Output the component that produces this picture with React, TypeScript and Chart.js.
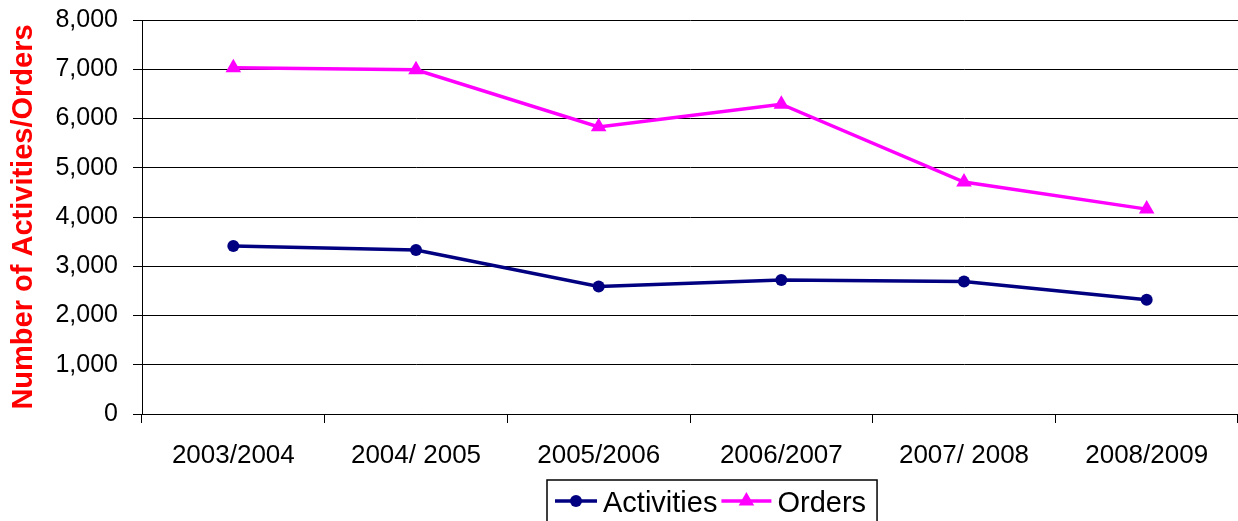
import React, { useEffect, useRef } from 'react';
import { Chart, registerables } from 'chart.js';

Chart.register(...registerables);

const categories = ['2003/2004', '2004/ 2005', '2005/2006', '2006/2007', '2007/ 2008', '2008/2009'];
const activities = [3410, 3330, 2590, 2720, 2690, 2320];
const orders = [7030, 6990, 5830, 6290, 4710, 4160];
const yMin = 0;
const yMax = 8000;
const yStep = 1000;
const yTitle = 'Number of Activities/Orders';

const FONT = '"Liberation Sans", Arial, Helvetica, sans-serif';
const NAVY = '#000080';
const MAGENTA = '#FF00FF';

const W = 1238;
const H = 521;

function drawMarker(ctx: CanvasRenderingContext2D, style: string, x: number, y: number, r: number, color: string) {
  ctx.fillStyle = color;
  ctx.beginPath();
  if (style === 'triangle') {
    const a = -Math.PI / 2;
    for (let i = 0; i < 3; i++) {
      const ang = a + (i * 2 * Math.PI) / 3;
      const px = x + Math.cos(ang) * r;
      const py = y + Math.sin(ang) * r;
      if (i === 0) ctx.moveTo(px, py);
      else ctx.lineTo(px, py);
    }
    ctx.closePath();
  } else {
    ctx.arc(x, y, r, 0, Math.PI * 2);
  }
  ctx.fill();
}

const boxLegend = {
  id: 'boxLegend',
  afterDraw(chart: any) {
    const ctx: CanvasRenderingContext2D = chart.ctx;
    const ds = chart.data.datasets;
    ctx.save();
    ctx.font = `29px ${FONT}`;
    const boxLeft = 547;
    const boxTop = 480;
    const pad = 8;
    const lineLens = [42, 50];
    const gapAfterLine = 6;
    const gapBetween = 4;
    let x = boxLeft + pad;
    const cy = 501;
    const baseline = 512;
    ds.forEach((d: any, i: number) => {
      const len = lineLens[i] ?? 46;
      ctx.strokeStyle = d.borderColor;
      ctx.lineWidth = 3.5;
      ctx.beginPath();
      ctx.moveTo(x, cy);
      ctx.lineTo(x + len, cy);
      ctx.stroke();
      drawMarker(ctx, d.pointStyle, x + len / 2, cy, d.pointStyle === 'triangle' ? 9 : 6, d.borderColor);
      x += len + gapAfterLine;
      ctx.fillStyle = '#000';
      ctx.textBaseline = 'alphabetic';
      ctx.textAlign = 'left';
      ctx.fillText(d.label, x, baseline);
      x += ctx.measureText(d.label).width;
      if (i < ds.length - 1) x += gapBetween;
    });
    const boxRight = x + pad + 3;
    ctx.strokeStyle = '#000';
    ctx.lineWidth = 1.5;
    ctx.strokeRect(boxLeft, boxTop, boxRight - boxLeft, 60);
    ctx.restore();
  },
};

export default function App() {
  const canvasRef = useRef<HTMLCanvasElement | null>(null);

  useEffect(() => {
    const canvas = canvasRef.current;
    if (!canvas) return;
    const chart = new Chart(canvas, {
      type: 'line',
      data: {
        labels: categories,
        datasets: [
          {
            label: 'Activities',
            data: activities,
            borderColor: NAVY,
            backgroundColor: NAVY,
            borderWidth: 3.5,
            pointStyle: 'circle',
            pointRadius: 6,
            pointBackgroundColor: NAVY,
            pointBorderColor: NAVY,
            pointBorderWidth: 0,
            tension: 0,
            fill: false,
          },
          {
            label: 'Orders',
            data: orders,
            borderColor: MAGENTA,
            backgroundColor: MAGENTA,
            borderWidth: 3.5,
            pointStyle: 'triangle',
            pointRadius: 9,
            pointBackgroundColor: MAGENTA,
            pointBorderColor: MAGENTA,
            pointBorderWidth: 0,
            tension: 0,
            fill: false,
          },
        ],
      },
      options: {
        responsive: false,
        animation: false,
        devicePixelRatio: 1,
        layout: { autoPadding: false, padding: { top: 20, right: 0, bottom: 0, left: 0 } },
        plugins: {
          legend: { display: false },
          tooltip: { enabled: false },
          title: { display: false },
        },
        scales: {
          x: {
            type: 'category',
            offset: true,
            grid: {
              display: true,
              drawOnChartArea: false,
              drawTicks: true,
              tickLength: 9,
              offset: true,
              color: '#000',
              lineWidth: 1,
            },
            border: { display: true, color: '#000', width: 1 },
            ticks: {
              color: '#000',
              font: { family: FONT, size: 26 },
              padding: 17,
              maxRotation: 0,
              autoSkip: false,
            },
            afterFit: (scale: any) => {
              scale.height = 107;
              scale.paddingLeft = 0;
              scale.paddingRight = 0;
            },
          },
          y: {
            min: yMin,
            max: yMax,
            grid: {
              color: '#000',
              lineWidth: 1,
              drawTicks: true,
              tickLength: 9,
            },
            border: { display: true, color: '#000', width: 1 },
            ticks: {
              stepSize: yStep,
              color: '#000',
              font: { family: FONT, size: 25 },
              padding: 15,
              callback: (v: any) => Number(v).toLocaleString('en-US'),
            },
            title: {
              display: true,
              text: yTitle,
              color: '#FF0000',
              font: { family: FONT, size: 29, weight: 'bold' },
              padding: { top: 7, bottom: 0 },
            },
            afterFit: (scale: any) => {
              scale.width = 142;
              scale.paddingTop = 0;
              scale.paddingBottom = 0;
            },
          },
        },
      },
      plugins: [boxLegend],
    });
    return () => {
      chart.destroy();
    };
  }, []);

  return (
    <div style={{ position: 'fixed', left: 0, top: 0, width: W, height: H, background: '#fff' }}>
      <canvas ref={canvasRef} width={W} height={H} style={{ display: 'block', width: W, height: H }} />
    </div>
  );
}
